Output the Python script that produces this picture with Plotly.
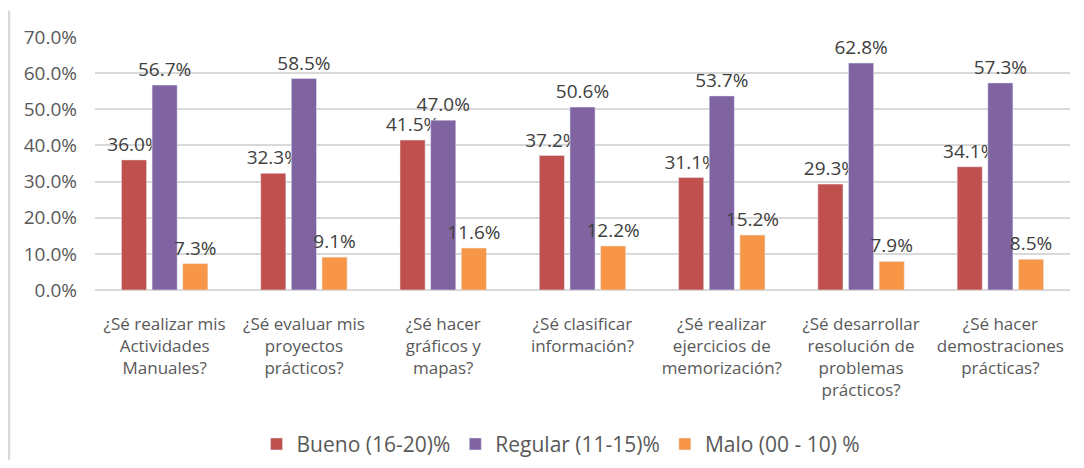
import plotly.graph_objects as go

categories = [
    "¿Sé realizar mis<br>Actividades<br>Manuales?",
    "¿Sé evaluar mis<br>proyectos<br>prácticos?",
    "¿Sé hacer<br>gráficos y<br>mapas?",
    "¿Sé clasificar<br>información?",
    "¿Sé realizar<br>ejercicios de<br>memorización?",
    "¿Sé desarrollar<br>resolución de<br>problemas<br>prácticos?",
    "¿Sé hacer<br>demostraciones<br>prácticas?",
]
bueno = [36.0, 32.3, 41.5, 37.2, 31.1, 29.3, 34.1]
regular = [56.7, 58.5, 47.0, 50.6, 53.7, 62.8, 57.3]
malo = [7.3, 9.1, 11.6, 12.2, 15.2, 7.9, 8.5]
series_names = ["Bueno (16-20)%", "Regular (11-15)%", "Malo (00 - 10) %"]
colors = ["#C0504D", "#8064A2", "#F79646"]

fig = go.Figure()
for name, vals, col in zip(series_names, [bueno, regular, malo], colors):
    fig.add_trace(go.Bar(
        x=categories, y=vals, name=name, marker_color=col,
        text=[f"{v:.1f}%" for v in vals], textposition="outside",
        constraintext="none",
        textfont=dict(size=19, color="#404040", family="Open Sans"),
        cliponaxis=False,
    ))

# page body has an 8px default margin: figure is 1068x452 so the page is 1084x468
fig.update_layout(
    width=1068, height=452,
    margin=dict(l=87, r=6, t=29, b=170, autoexpand=False),
    plot_bgcolor="white", paper_bgcolor="white",
    barmode="group", bargap=0.34, bargroupgap=0.18,
    font=dict(family="Open Sans", color="#595959"),
    showlegend=True,
    legend=dict(orientation="h", x=0.478, xanchor="center", y=-0.61, yanchor="middle",
                font=dict(size=21, color="#595959"), itemwidth=30),
    xaxis=dict(showgrid=False, showline=False, ticks="", automargin=False,
               tickfont=dict(size=17, color="#595959"), ticklabelstandoff=22),
    yaxis=dict(range=[0, 70], dtick=10, ticksuffix="%", tickformat=".1f",
               automargin=False,
               gridcolor="#D9D9D9", gridwidth=1.5, zeroline=True,
               zerolinecolor="#D9D9D9", zerolinewidth=1.5,
               tickfont=dict(size=19, color="#595959"), ticklabelstandoff=17),
    shapes=[dict(type="line", xref="paper", yref="paper", x0=-0.0882, x1=-0.0882,
                 y0=1.105, y1=-0.8, line=dict(color="#D9D9D9", width=2.5))],
)
fig.write_html("out.html")
